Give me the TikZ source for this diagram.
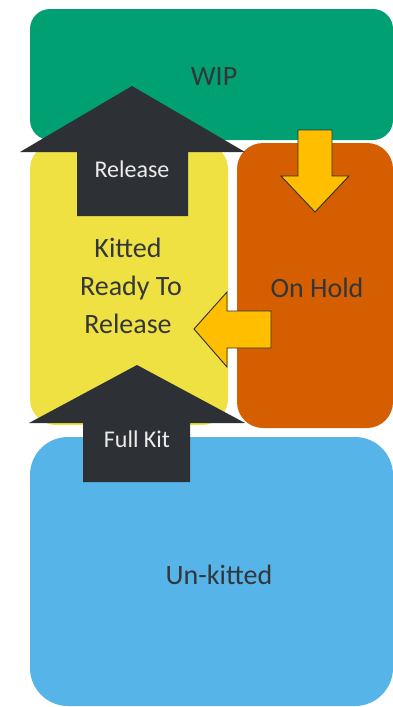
\documentclass[tikz,border=0pt]{standalone}
\usepackage{fontspec}
\setmainfont{Carlito}
\definecolor{cgreen}{HTML}{00A073}
\definecolor{cyellow}{HTML}{EFE142}
\definecolor{corange}{HTML}{D55E00}
\definecolor{cblue}{HTML}{56B4E9}
\definecolor{carrow}{HTML}{FFBF00}
\definecolor{cdark}{HTML}{2D3034}
\definecolor{ctext}{HTML}{33363A}
\begin{document}
\begin{tikzpicture}[x=1pt,y=-1pt,
  box/.style={inner sep=0pt,outer sep=0pt},
  lbl/.style={anchor=base,inner sep=0pt,text=ctext,font=\fontsize{28}{34}\selectfont},
  wlbl/.style={anchor=base,inner sep=0pt,text=white!92!black,font=\fontsize{24}{29}\selectfont},
  bigarrow/.style={fill=cdark},
  smallarrow/.style={fill=carrow,draw=cdark,line width=0.9pt,line join=miter}]
\useasboundingbox (0,0) rectangle (393,707);
% boxes
\node[box,fill=cgreen,rounded corners=20pt,minimum width=363pt,minimum height=131pt] (wip) at (211.5,74.5) {};
\node[box,fill=cyellow,rounded corners=26pt,minimum width=198pt,minimum height=282pt] (kit) at (129,284) {};
\node[box,fill=corange,rounded corners=26pt,minimum width=156pt,minimum height=285pt] (hold) at (315,285.5) {};
\node[box,fill=cblue,rounded corners=38pt,minimum width=363pt,minimum height=269pt] (unk) at (211.5,571.5) {};
% yellow arrows
\draw[smallarrow] (298,130) -- (332,130) -- (332,176) -- (349,176) -- (315,212) -- (281,176) -- (298,176) -- cycle;
\draw[smallarrow] (271,311) -- (227,311) -- (227,292) -- (194,329) -- (227,367) -- (227,348) -- (271,348) -- cycle;
% dark arrows
\fill[bigarrow] (77,216) -- (77,152) -- (20,152) -- (132,86) -- (245,152) -- (188,152) -- (188,216) -- cycle;
\fill[bigarrow] (83,482) -- (83,423) -- (29,423) -- (137,365) -- (245,423) -- (190,423) -- (190,482) -- cycle;
% labels
\node[lbl] (twip) at (214,85) {WIP};
\node[wlbl] (trel) at (132,177) {Release};
\node[lbl] (tk1) at (128,257) {Kitted};
\node[lbl] (tk2) at (131,295) {Ready To};
\node[lbl] (tk3) at (128,333) {Release};
\node[lbl] (thold) at (317,297) {On Hold};
\node[wlbl] (tfull) at (137,447) {Full Kit};
\node[lbl] (tunk) at (219,584) {Un-kitted};
\end{tikzpicture}
\end{document}
